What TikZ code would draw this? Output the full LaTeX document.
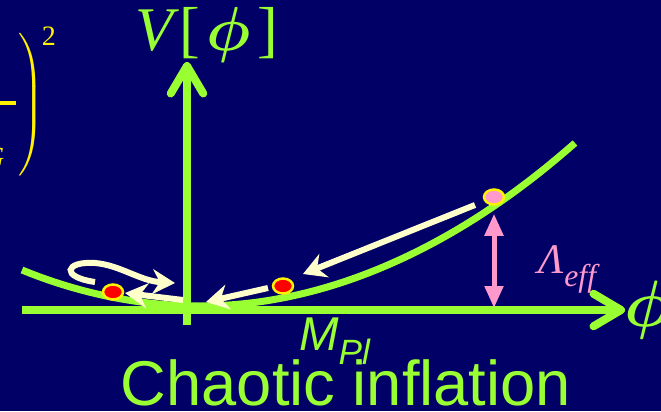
\documentclass[tikz,border=0pt]{standalone}
\usepackage{fontspec}
\setmainfont{Liberation Serif}
\newfontfamily\arial{Liberation Sans}
\usepackage{tikz}
\usetikzlibrary{positioning,arrows.meta,shapes.geometric}

\definecolor{navy}{RGB}{0,0,102}
\definecolor{lime}{RGB}{153,255,51}
\definecolor{cream}{RGB}{255,255,204}
\definecolor{rose}{RGB}{255,153,204}

\newcommand{\bigphi}{\scalebox{1.5}{\boldmath$\phi$}}

\begin{document}
\begin{tikzpicture}
        \tikzset{
            axis/.style={lime, line width=1.6mm, -{Straight Barb[length=5.5mm,width=6.5mm,round]}},
            pot/.style={lime, line width=1.4mm},
            roll/.style={cream, line width=1.2mm, -{Stealth[length=4.5mm,width=5mm]}},
            gap/.style={rose, line width=1mm, {Triangle[length=4.4mm,width=3.6mm]}-{Triangle[length=4.4mm,width=3.6mm]}},
            ball/.style={ellipse, draw=yellow, line width=0.5mm, fill=red, minimum width=0.4cm, minimum height=0.3cm, inner sep=0},
            lbl/.style={lime, inner sep=0}
        }
        \fill[navy] (0,0) rectangle (13.22,8.22);
        \useasboundingbox (0,0) rectangle (13.22,8.22);
        % cut-off prefactor, top left
        \node[yellow, inner sep=0] (R) at (0.6,6.12) {\scalebox{1.7}{$\left.\rule[-0.76cm]{0pt}{1.52cm}\right)$}};
        \node[yellow, inner sep=0, font=\fontsize{16}{18}\selectfont] (S) at (0.98,7.49) {2};
        \node[yellow, inner sep=0, font=\fontsize{16}{18}\selectfont\itshape] (G) at (-0.12,5.08) {G};
        \coordinate (B0) at (0,6.16);
        \coordinate (B1) at (0.31,6.16);
        \draw[yellow, line width=0.8mm] (B0) -- (B1);
        % potential
        \draw[pot] (0.44,2.82) parabola bend (4.0,2.10) (11.5,5.36);
        \coordinate (X0) at (0.44,2.02);
        \coordinate (X1) at (12.5,2.02);
        \coordinate (Y0) at (3.74,1.72);
        \coordinate (Y1) at (3.74,6.98);
        \draw[axis] (X0) -- (X1);
        \draw[axis] (Y0) -- (Y1);
        \node[lbl, font=\fontsize{24.88}{28}\selectfont] (V) at (4.14,7.52) {\scalebox{1.42}{\textit{V}[\kern0.1em{\boldmath$\phi$}\kern0.12em]}};
        \node[lbl, font=\fontsize{24.88}{28}\selectfont] (P) at (12.95,2.02) {\bigphi};
        \node[lbl, font=\arial\itshape\fontsize{27}{30}\selectfont] (M) at (6.69,1.39) {M\raisebox{-0.3em}{\fontsize{20}{22}\selectfont Pl}};
        % balls
        \node[ball] (b1) at (2.26,2.38) {};
        \node[ball] (b2) at (5.66,2.5) {};
        \node[ball, fill=rose] (b3) at (9.88,4.28) {};
        % rolling
        \coordinate (r0) at (9.5,4.12);
        \coordinate (r1) at (6.06,2.74);
        \coordinate (r2) at (5.36,2.46);
        \coordinate (r3) at (4.12,2.18);
        \coordinate (r4) at (3.66,2.22);
        \coordinate (r5) at (2.5,2.36);
        \coordinate (l0) at (1.9,2.58);
        \coordinate (l1) at (3.5,2.56);
        \draw[roll] (r0) -- (r1);
        \draw[roll] (r2) -- (r3);
        \draw[roll] (r4) -- (r5);
        \draw[roll] (l0) .. controls (1.2,2.68) and (1.3,3.0) .. (1.9,2.96) .. controls (2.4,2.92) and (2.8,2.6) .. (l1);
        % vacuum energy
        \coordinate (F) at (9.88,2.06);
        \draw[gap] ([yshift=-1.6mm]b3.south) -- (F);
        \node[rose, inner sep=0] (L) at (11.35,2.84) {\fontsize{24}{26}\selectfont\itshape Λ\raisebox{-0.31em}{\fontsize{18}{20}\selectfont eff}};
        \node[lime, font=\arial\fontsize{36}{40}\selectfont, anchor=base] (T) at (6.92,0.12) {Chaotic inflation};
    \end{tikzpicture}
\end{document}
